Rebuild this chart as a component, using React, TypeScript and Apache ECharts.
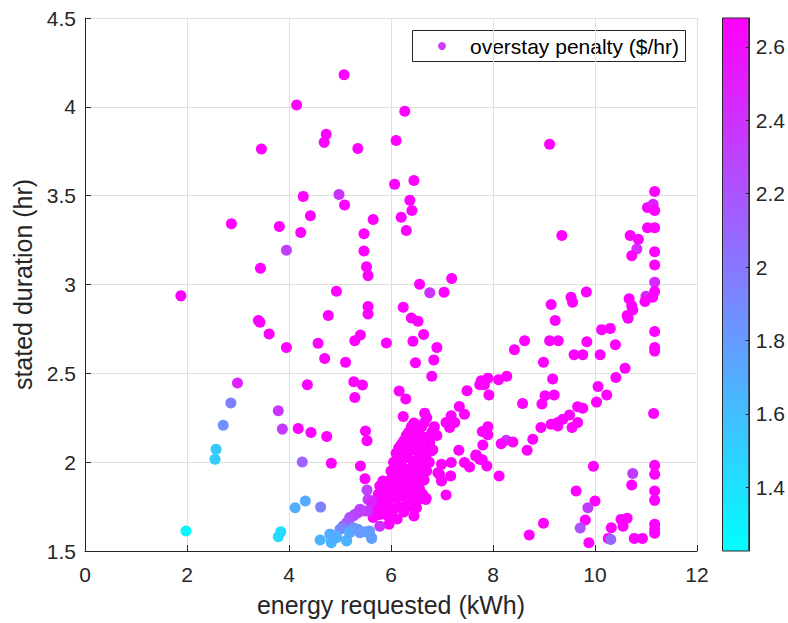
import React, { useEffect, useRef } from "react";
import * as echarts from "echarts";

// [energy requested (kWh), stated duration (hr), overstay penalty ($/hr)]
type Session = [number, number, number];

const xTicks = [0, 2, 4, 6, 8, 10, 12];
const yTicks = [1.5, 2, 2.5, 3, 3.5, 4, 4.5];
const colorTicks = [1.4, 1.6, 1.8, 2, 2.2, 2.4, 2.6];
const penaltyRange = [1.226, 2.679];

const scatteredSessions: Session[] = [
  [5.08, 4.18, 2.67], [4.15, 4.01, 2.67], [6.27, 3.975, 2.67], [4.73, 3.846, 2.67],
  [4.69, 3.8, 2.67], [3.46, 3.763, 2.67], [5.35, 3.765, 2.67], [6.1, 3.81, 2.67],
  [9.11, 3.79, 2.67], [6.07, 3.564, 2.67], [6.45, 3.585, 2.67], [4.98, 3.507, 2.38],
  [4.28, 3.496, 2.67], [5.09, 3.447, 2.67], [6.37, 3.474, 2.67], [6.41, 3.417, 2.67],
  [4.42, 3.387, 2.67], [6.2, 3.379, 2.67], [5.65, 3.366, 2.67], [2.87, 3.342, 2.67],
  [3.81, 3.327, 2.67], [6.3, 3.304, 2.67], [4.23, 3.293, 2.67], [5.47, 3.286, 2.67],
  [9.35, 3.276, 2.67], [3.95, 3.193, 2.32], [5.47, 3.188, 2.67], [5.52, 3.1, 2.67],
  [3.44, 3.092, 2.67], [5.55, 3.05, 2.67], [7.19, 3.034, 2.67], [6.56, 3.001, 2.67],
  [4.93, 2.962, 2.67], [6.76, 2.953, 2.4], [7.04, 2.956, 2.67], [1.88, 2.936, 2.67],
  [5.55, 2.876, 2.67], [6.24, 2.872, 2.67], [5.55, 2.834, 2.67], [4.77, 2.825, 2.67],
  [6.4, 2.812, 2.67], [3.4, 2.797, 2.67], [3.43, 2.787, 2.67], [6.53, 2.793, 2.67],
  [3.61, 2.722, 2.67], [5.4, 2.716, 2.67], [6.64, 2.718, 2.67], [5.29, 2.684, 2.67],
  [6.43, 2.68, 2.67], [5.91, 2.671, 2.67], [4.57, 2.669, 2.67], [3.95, 2.646, 2.67],
  [6.9, 2.646, 2.67], [4.7, 2.584, 2.67], [6.84, 2.575, 2.67], [5.11, 2.562, 2.67],
  [6.48, 2.56, 2.67], [6.8, 2.483, 2.67], [5.27, 2.453, 2.67], [2.99, 2.445, 2.48],
  [4.36, 2.436, 2.67], [5.44, 2.434, 2.67], [6.16, 2.4, 2.67], [5.29, 2.364, 2.67],
  [6.29, 2.355, 2.67], [2.86, 2.333, 1.95], [3.79, 2.289, 2.38], [6.66, 2.276, 2.67],
  [6.24, 2.257, 2.67], [2.71, 2.208, 1.86], [4.18, 2.189, 2.67], [3.87, 2.186, 2.35],
  [5.5, 2.176, 2.67], [4.43, 2.167, 2.67], [4.74, 2.144, 2.67], [5.53, 2.12, 2.67],
  [2.57, 2.073, 1.53], [2.55, 2.017, 1.52], [4.26, 2.001, 2.12], [4.83, 1.994, 2.67],
  [5.4, 1.979, 2.67], [5.49, 1.907, 2.67], [1.98, 1.612, 1.29], [3.79, 1.58, 1.42],
  [3.84, 1.608, 1.43], [4.12, 1.744, 1.69], [4.32, 1.782, 1.72], [4.62, 1.747, 1.95],
];

const rightSessions: Session[] = [
  [11.17, 3.524, 2.67], [11.03, 3.434, 2.67], [11.14, 3.451, 2.5], [11.17, 3.417, 2.67],
  [11.03, 3.32, 2.67], [11.17, 3.32, 2.67], [10.69, 3.276, 2.67], [10.85, 3.255, 2.67],
  [10.82, 3.2, 2.45], [10.72, 3.162, 2.67], [11.17, 3.184, 2.67], [11.17, 3.11, 2.67],
  [11.17, 3.013, 2.45], [11.17, 2.96, 2.67], [9.83, 2.958, 2.67], [9.53, 2.928, 2.67],
  [10.67, 2.92, 2.67], [11.0, 2.934, 2.45], [11.13, 2.928, 2.67], [10.98, 2.905, 2.67],
  [10.72, 2.881, 2.67], [10.74, 2.857, 2.67], [10.63, 2.825, 2.67], [10.65, 2.81, 2.67],
  [9.56, 2.9, 2.67], [9.14, 2.887, 2.67], [9.22, 2.797, 2.67], [10.13, 2.746, 2.67],
  [10.3, 2.753, 2.67], [11.17, 2.735, 2.67], [10.4, 2.661, 2.67], [11.17, 2.645, 2.67],
  [11.17, 2.625, 2.67], [9.84, 2.678, 2.67], [9.11, 2.684, 2.67], [9.28, 2.684, 2.67],
  [8.62, 2.684, 2.67], [8.42, 2.633, 2.67], [8.99, 2.562, 2.67], [9.59, 2.605, 2.67],
  [9.76, 2.605, 2.67], [10.1, 2.605, 2.67], [10.59, 2.528, 2.67], [10.41, 2.477, 2.67],
  [9.17, 2.468, 2.67], [10.06, 2.426, 2.67], [10.23, 2.378, 2.67], [10.03, 2.338, 2.67],
  [11.15, 2.274, 2.67], [9.02, 2.374, 2.67], [9.2, 2.378, 2.67], [8.96, 2.327, 2.67],
  [8.58, 2.33, 2.67], [8.11, 2.464, 2.67], [8.27, 2.483, 2.67], [7.9, 2.473, 2.67],
  [7.77, 2.458, 2.67], [7.74, 2.436, 2.67], [7.83, 2.436, 2.67], [7.92, 2.378, 2.67],
  [7.49, 2.402, 2.67], [7.34, 2.313, 2.67], [7.44, 2.27, 2.67], [7.18, 2.261, 2.67],
  [7.08, 2.223, 2.67], [7.25, 2.223, 2.67], [7.15, 2.195, 2.67], [9.66, 2.312, 2.67],
  [9.76, 2.304, 2.67], [9.5, 2.266, 2.67], [9.37, 2.242, 2.67], [9.27, 2.223, 2.67],
  [9.14, 2.214, 2.67], [9.27, 2.204, 2.67], [9.66, 2.223, 2.67], [9.55, 2.195, 2.67],
  [8.94, 2.195, 2.67], [8.78, 2.129, 2.67], [8.67, 2.067, 2.67], [8.26, 2.123, 2.35],
  [8.16, 2.104, 2.67], [8.39, 2.114, 2.67], [7.9, 2.2, 2.67], [7.79, 2.172, 2.67],
  [7.9, 2.154, 2.67], [7.8, 2.096, 2.67], [7.33, 2.067, 2.67], [7.67, 2.041, 2.67],
  [7.74, 2.017, 2.67], [7.88, 1.979, 2.67], [7.44, 1.998, 2.67], [7.54, 1.973, 2.67],
  [7.18, 1.998, 2.67], [6.99, 1.988, 2.67], [6.95, 1.932, 2.67], [6.99, 1.894, 2.67],
  [7.17, 1.922, 2.67], [7.08, 1.815, 2.67], [8.12, 1.922, 2.67], [9.97, 1.977, 2.67],
  [10.74, 1.936, 2.35], [10.72, 1.872, 2.67], [11.17, 1.983, 2.67], [11.17, 1.932, 2.67],
  [11.17, 1.838, 2.67], [11.17, 1.785, 2.67], [9.63, 1.838, 2.67], [10.0, 1.782, 2.67],
  [9.86, 1.744, 2.35], [9.81, 1.674, 2.67], [9.71, 1.629, 2.22], [9.88, 1.546, 2.67],
  [8.99, 1.656, 2.67], [8.71, 1.59, 2.67], [10.51, 1.678, 2.67], [10.63, 1.684, 2.67],
  [10.55, 1.639, 2.67], [10.32, 1.631, 2.67], [10.26, 1.571, 2.67], [10.31, 1.565, 2.1],
  [10.77, 1.571, 2.67], [10.93, 1.571, 2.67], [11.17, 1.65, 2.67], [11.17, 1.622, 2.67],
  [11.17, 1.6, 2.67],
];

const diagonalBand: Session[] = [
  [6.82, 2.172, 2.67], [6.69, 2.139, 2.67], [6.76, 2.11, 2.67], [6.43, 2.101, 2.67],
  [6.56, 2.082, 2.67], [6.79, 2.063, 2.67], [6.69, 2.045, 2.67], [6.37, 2.063, 2.67],
  [6.3, 2.026, 2.67], [6.43, 2.007, 2.67], [6.17, 2.007, 2.67], [6.24, 1.969, 2.67],
  [6.37, 1.96, 2.67], [6.59, 1.95, 2.67], [6.11, 1.941, 2.67], [6.04, 1.913, 2.67],
  [6.2, 1.913, 2.67], [5.94, 1.894, 2.67], [5.84, 1.894, 2.67], [5.78, 1.866, 2.67],
  [6.07, 1.876, 2.67], [6.17, 1.857, 2.67], [6.33, 1.838, 2.67], [6.53, 1.847, 2.67],
  [6.56, 1.894, 2.67], [5.94, 1.828, 2.67], [5.81, 1.828, 2.67], [6.01, 1.8, 2.67],
  [6.2, 1.81, 2.67], [6.69, 1.797, 2.67], [6.5, 1.744, 2.67], [6.45, 1.697, 2.67],
  [6.06, 1.738, 2.67], [5.94, 1.697, 2.67], [5.78, 1.706, 2.67], [5.65, 1.688, 2.67],
  [5.96, 1.65, 2.67], [6.53, 1.79, 2.67], [6.3, 1.759, 2.67], [5.83, 1.759, 2.67],
  [6.92, 1.941, 2.67], [7.66, 2.035, 2.67], [7.79, 2.013, 2.67], [6.17, 2.03, 2.67],
  [6.56, 2.12, 2.67], [6.66, 2.14, 2.67], [6.8, 2.167, 2.67], [6.76, 2.08, 2.67],
  [6.82, 2.07, 2.67], [6.58, 1.894, 2.67], [6.56, 1.847, 2.67], [6.53, 1.8, 2.67],
  [6.68, 1.79, 2.67], [6.48, 1.744, 2.67], [6.33, 1.84, 2.67], [6.0, 1.95, 2.67],
  [6.05, 2.0, 2.67], [6.1, 2.05, 2.67], [6.15, 2.08, 2.67], [6.2, 2.1, 2.67],
  [6.25, 2.12, 2.67], [6.3, 2.15, 2.67], [6.35, 2.17, 2.67], [6.4, 2.2, 2.67],
  [6.45, 2.22, 2.67], [6.5, 2.18, 2.67], [6.55, 2.15, 2.67], [6.6, 2.2, 2.67],
  [6.65, 2.22, 2.67], [6.7, 2.25, 2.67], [6.4, 2.13, 2.67], [6.35, 2.08, 2.67],
  [6.25, 2.05, 2.67], [6.1, 1.98, 2.67], [6.15, 1.93, 2.67], [6.25, 1.92, 2.67],
  [6.3, 1.95, 2.67], [6.4, 1.9, 2.67], [6.45, 1.95, 2.67], [6.5, 2.0, 2.67],
  [6.55, 2.05, 2.67], [6.6, 2.0, 2.67], [6.65, 2.05, 2.67], [6.5, 1.9, 2.67],
  [6.45, 1.8, 2.67], [6.4, 1.78, 2.67], [6.35, 1.75, 2.67], [6.25, 1.72, 2.67],
  [6.15, 1.75, 2.67], [6.1, 1.8, 2.67], [6.0, 1.85, 2.67], [5.9, 1.8, 2.67],
  [5.95, 1.75, 2.67], [5.85, 1.72, 2.67], [5.7, 1.73, 2.67], [5.72, 1.78, 2.67],
  [5.75, 1.82, 2.67], [5.88, 1.86, 2.67], [6.0, 1.72, 2.67], [6.12, 1.68, 2.67],
  [6.3, 1.82, 2.67], [6.38, 1.86, 2.67], [6.2, 1.88, 2.67], [6.08, 1.83, 2.67],
  [6.62, 1.82, 2.67], [6.65, 1.9, 2.67], [6.7, 1.95, 2.67], [6.75, 2.0, 2.67],
  [6.72, 2.12, 2.67], [6.85, 2.2, 2.67], [6.9, 2.15, 2.67],
];

const lowerBand: Session[] = [
  [5.53, 1.843, 2.3], [5.62, 1.782, 2.4], [5.55, 1.79, 2.35], [5.62, 1.772, 2.5],
  [5.55, 1.725, 2.4], [5.49, 1.725, 2.35], [5.39, 1.735, 2.3], [5.35, 1.715, 2.35],
  [5.29, 1.706, 2.3], [5.26, 1.697, 2.28], [5.19, 1.688, 2.25], [5.16, 1.659, 2.2],
  [5.13, 1.659, 2.2], [5.09, 1.64, 2.1], [5.06, 1.64, 2.1], [5.78, 1.64, 2.4],
  [5.06, 1.631, 2.0], [5.0, 1.622, 1.9], [5.26, 1.631, 1.85],
  [4.61, 1.562, 1.66], [4.81, 1.594, 1.72], [4.83, 1.546, 1.66], [4.83, 1.556, 1.66],
  [4.93, 1.575, 1.66], [4.93, 1.584, 1.68], [5.13, 1.56, 1.68], [5.13, 1.556, 1.66],
  [5.18, 1.612, 1.8], [5.19, 1.603, 1.72], [5.35, 1.622, 1.8], [5.39, 1.603, 1.8],
  [5.49, 1.608, 1.8], [5.58, 1.612, 1.8], [5.58, 1.603, 1.78], [5.62, 1.575, 1.8],
  [5.62, 1.571, 1.78], [4.8, 1.594, 1.7],
];

const FONT = "'Liberation Sans', Arial, Helvetica, sans-serif";
const AXIS = "#262626";
const GRID = "#e0e0e0";

export default function App() {
  const ref = useRef<HTMLDivElement>(null);

  useEffect(() => {
    if (!ref.current) return;
    const chart = echarts.init(ref.current, undefined, { renderer: "svg" });
    const sessions = [...diagonalBand, ...scatteredSessions, ...rightSessions, ...lowerBand];
    const [pMin, pMax] = penaltyRange;

    chart.setOption({
      animation: false,
      backgroundColor: "#ffffff",
      textStyle: { fontFamily: FONT },
      grid: [
        { left: 85, top: 18, width: 612, height: 533 },
        { left: 722.5, top: 18, width: 26.5, height: 533 },
      ],
      xAxis: [
        {
          gridIndex: 0,
          type: "value",
          min: xTicks[0],
          max: xTicks[xTicks.length - 1],
          interval: xTicks[1] - xTicks[0],
          name: "energy requested (kWh)",
          nameLocation: "middle",
          nameGap: 41,
          nameTextStyle: { fontSize: 25, color: AXIS, fontFamily: FONT },
          axisLine: { show: true, onZero: false, lineStyle: { color: AXIS, width: 1 } },
          axisTick: { show: true, inside: true, length: 6, lineStyle: { color: AXIS } },
          axisLabel: { fontSize: 21, color: AXIS, margin: 13, fontFamily: FONT },
          splitLine: { show: true, lineStyle: { color: GRID, width: 1 } },
        },
        { gridIndex: 1, type: "value", min: 0, max: 1, show: false },
      ],
      yAxis: [
        {
          gridIndex: 0,
          type: "value",
          min: yTicks[0],
          max: yTicks[yTicks.length - 1],
          interval: yTicks[1] - yTicks[0],
          name: "stated duration (hr)",
          nameLocation: "middle",
          nameGap: 38,
          nameRotate: 90,
          nameTextStyle: { fontSize: 25, color: AXIS, fontFamily: FONT },
          axisLine: { show: true, onZero: false, lineStyle: { color: AXIS, width: 1 } },
          axisTick: { show: true, inside: true, length: 6, lineStyle: { color: AXIS } },
          axisLabel: { fontSize: 21, color: AXIS, margin: 9, fontFamily: FONT },
          splitLine: { show: true, lineStyle: { color: GRID, width: 1 } },
        },
        {
          gridIndex: 1,
          type: "value",
          position: "right",
          min: pMin,
          max: pMax,
          z: 5,
          axisLine: { show: true, onZero: false, lineStyle: { color: AXIS, width: 1 } },
          axisTick: {
            show: true,
            inside: true,
            length: 3,
            customValues: colorTicks,
            lineStyle: { color: AXIS },
          },
          axisLabel: {
            fontSize: 21,
            color: AXIS,
            margin: 7,
            customValues: colorTicks,
            fontFamily: FONT,
          },
          splitLine: { show: false },
        },
      ],
      visualMap: {
        type: "continuous",
        show: false,
        seriesIndex: 0,
        dimension: 2,
        min: pMin,
        max: pMax,
        inRange: { color: ["#00ffff", "#ff00ff"] },
      },
      series: [
        {
          type: "scatter",
          xAxisIndex: 0,
          yAxisIndex: 0,
          symbol: "circle",
          symbolSize: 11,
          data: sessions,
          itemStyle: { opacity: 1 },
          emphasis: { disabled: true },
        },
        {
          // colour bar fill, spanning the full penalty range of its axis
          type: "custom",
          xAxisIndex: 1,
          yAxisIndex: 1,
          z: 1,
          data: [[0, pMin, pMax]],
          renderItem: (_params: any, api: any) => {
            const tl = api.coord([0, pMax]);
            const br = api.coord([1, pMin]);
            return {
              type: "rect",
              shape: { x: tl[0], y: tl[1], width: br[0] - tl[0], height: br[1] - tl[1] },
              style: {
                fill: new echarts.graphic.LinearGradient(0, 0, 0, 1, [
                  { offset: 0, color: "#ff00ff" },
                  { offset: 1, color: "#00ffff" },
                ]),
                stroke: AXIS,
                lineWidth: 1,
              },
            };
          },
        },
      ],
      graphic: [
        {
          type: "group",
          left: 412,
          top: 30,
          z: 10,
          children: [
            {
              type: "rect",
              shape: { x: 0.5, y: 0.5, width: 273, height: 31 },
              style: { fill: "#ffffff", stroke: AXIS, lineWidth: 1 },
            },
            {
              type: "circle",
              shape: { cx: 30, cy: 16, r: 4 },
              style: { fill: "#d43af8" },
            },
            {
              type: "text",
              x: 58,
              y: 16,
              style: {
                text: "overstay penalty ($/hr)",
                fontSize: 21,
                fontFamily: FONT,
                fill: "#000000",
                verticalAlign: "middle",
              },
            },
          ],
        },
      ],
    });

    return () => chart.dispose();
  }, []);

  return (
    <div
      ref={ref}
      style={{ position: "absolute", left: 0, top: 0, width: 788, height: 623 }}
    />
  );
}
